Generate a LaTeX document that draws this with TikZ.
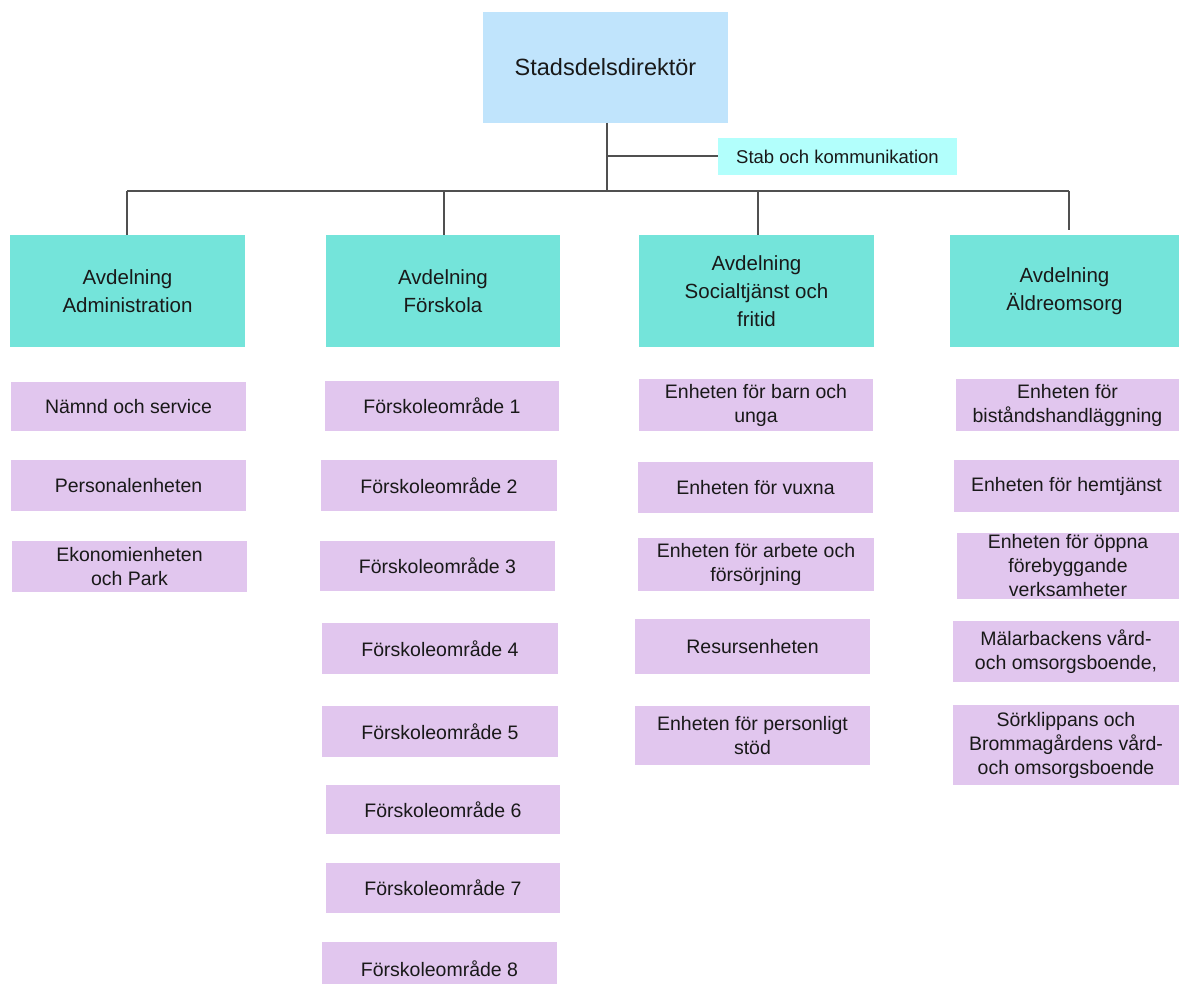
\documentclass[tikz,border=0pt]{standalone}
\usepackage{fontspec}
\setmainfont{Liberation Sans}
\definecolor{topblue}{RGB}{192,228,252}
\definecolor{stabcyan}{RGB}{178,255,252}
\definecolor{teal2}{RGB}{116,228,218}
\definecolor{lilac}{RGB}{225,198,238}
\definecolor{linegrey}{RGB}{80,80,80}
\newcommand\boxat[7]{%
  \node[#2, minimum width={(#5-#3)*1pt}, minimum height={(#6-#4)*1pt}] (#1) at ({(#3+#5)/2},{(#4+#6)/2}) {#7};}
\begin{document}
\begin{tikzpicture}[x=1pt,y=-1pt,
  every node/.style={inner sep=0pt, outer sep=0pt, align=center, text=black!90},
  topbox/.style={fill=topblue, font=\fontsize{23.5}{28}\selectfont},
  stabbox/.style={fill=stabcyan, font=\fontsize{18.5}{22}\selectfont},
  deptbox/.style={fill=teal2, font=\fontsize{20.5}{28}\selectfont},
  subbox/.style={fill=lilac, font=\fontsize{19.5}{24}\selectfont},
  conn/.style={draw=linegrey, line width=1.4pt}]
\useasboundingbox (0,0) rectangle (1179,984);
% top
\boxat{top}{topbox}{483}{12}{728}{123}{Stadsdelsdirektör}
\boxat{stab}{stabbox}{718}{138}{957}{175}{Stab och kommunikation}
% departments
\boxat{adm}{deptbox}{10}{235}{245}{347}{Avdelning\\Administration}
\boxat{fsk}{deptbox}{326}{235}{560}{347}{Avdelning\\Förskola}
\boxat{soc}{deptbox}{639}{235}{874}{347}{Avdelning\\Socialtjänst och\\fritid}
\boxat{ald}{deptbox}{950}{235}{1179}{347}{Avdelning\\Äldreomsorg}
% connectors
\coordinate (tbot) at (607,123);
\coordinate (stabj) at (607,156);
\coordinate (bus) at (607,191);
\coordinate (b1) at (127,191);
\coordinate (b2) at (444,191);
\coordinate (b3) at (758,191);
\coordinate (b4) at (1069,191);
\draw[conn] (tbot) -- (bus);
\draw[conn] (stabj) -- (stabj -| stab.west);
\draw[conn] (b1) -- (b4);
\draw[conn] (b1) -- (b1 |- adm.north);
\draw[conn] (b2) -- (b2 |- fsk.north);
\draw[conn] (b3) -- (b3 |- soc.north);
\draw[conn] (b4) -- ([yshift=5pt]b4 |- ald.north);
% admin units
\boxat{a1}{subbox}{11}{382}{246}{431}{Nämnd och service}
\boxat{a2}{subbox}{11}{460}{246}{511}{Personalenheten}
\boxat{a3}{subbox}{12}{541}{247}{592}{Ekonomienheten\\och Park}
% förskola units
\boxat{f1}{subbox}{325}{381}{559}{431}{Förskoleområde 1}
\boxat{f2}{subbox}{321}{460}{557}{511}{Förskoleområde 2}
\boxat{f3}{subbox}{320}{541}{555}{591}{Förskoleområde 3}
\boxat{f4}{subbox}{322}{623}{558}{674}{Förskoleområde 4}
\boxat{f5}{subbox}{322}{706}{558}{757}{Förskoleområde 5}
\boxat{f6}{subbox}{326}{785}{560}{834}{Förskoleområde 6}
\boxat{f7}{subbox}{326}{863}{560}{913}{Förskoleområde 7}
\boxat{f8}{subbox}{322}{942}{557}{995}{Förskoleområde 8}
% social units
\boxat{s1}{subbox}{639}{379}{873}{431}{Enheten för barn och\\unga}
\boxat{s2}{subbox}{638}{462}{873}{513}{Enheten för vuxna}
\boxat{s3}{subbox}{638}{538}{874}{591}{Enheten för arbete och\\försörjning}
\boxat{s4}{subbox}{635}{619}{870}{674}{Resursenheten}
\boxat{s5}{subbox}{635}{706}{870}{765}{Enheten för personligt\\stöd}
% äldre units
\boxat{e1}{subbox}{956}{379}{1179}{431}{Enheten för\\biståndshandläggning}
\boxat{e2}{subbox}{954}{460}{1179}{512}{Enheten för hemtjänst}
\boxat{e3}{subbox}{957}{533}{1179}{599}{Enheten för öppna\\förebyggande\\verksamheter}
\boxat{e4}{subbox}{953}{621}{1179}{682}{Mälarbackens vård-\\och omsorgsboende,}
\boxat{e5}{subbox}{953}{705}{1179}{785}{Sörklippans och\\Brommagårdens vård-\\och omsorgsboende}
\end{tikzpicture}
\end{document}
